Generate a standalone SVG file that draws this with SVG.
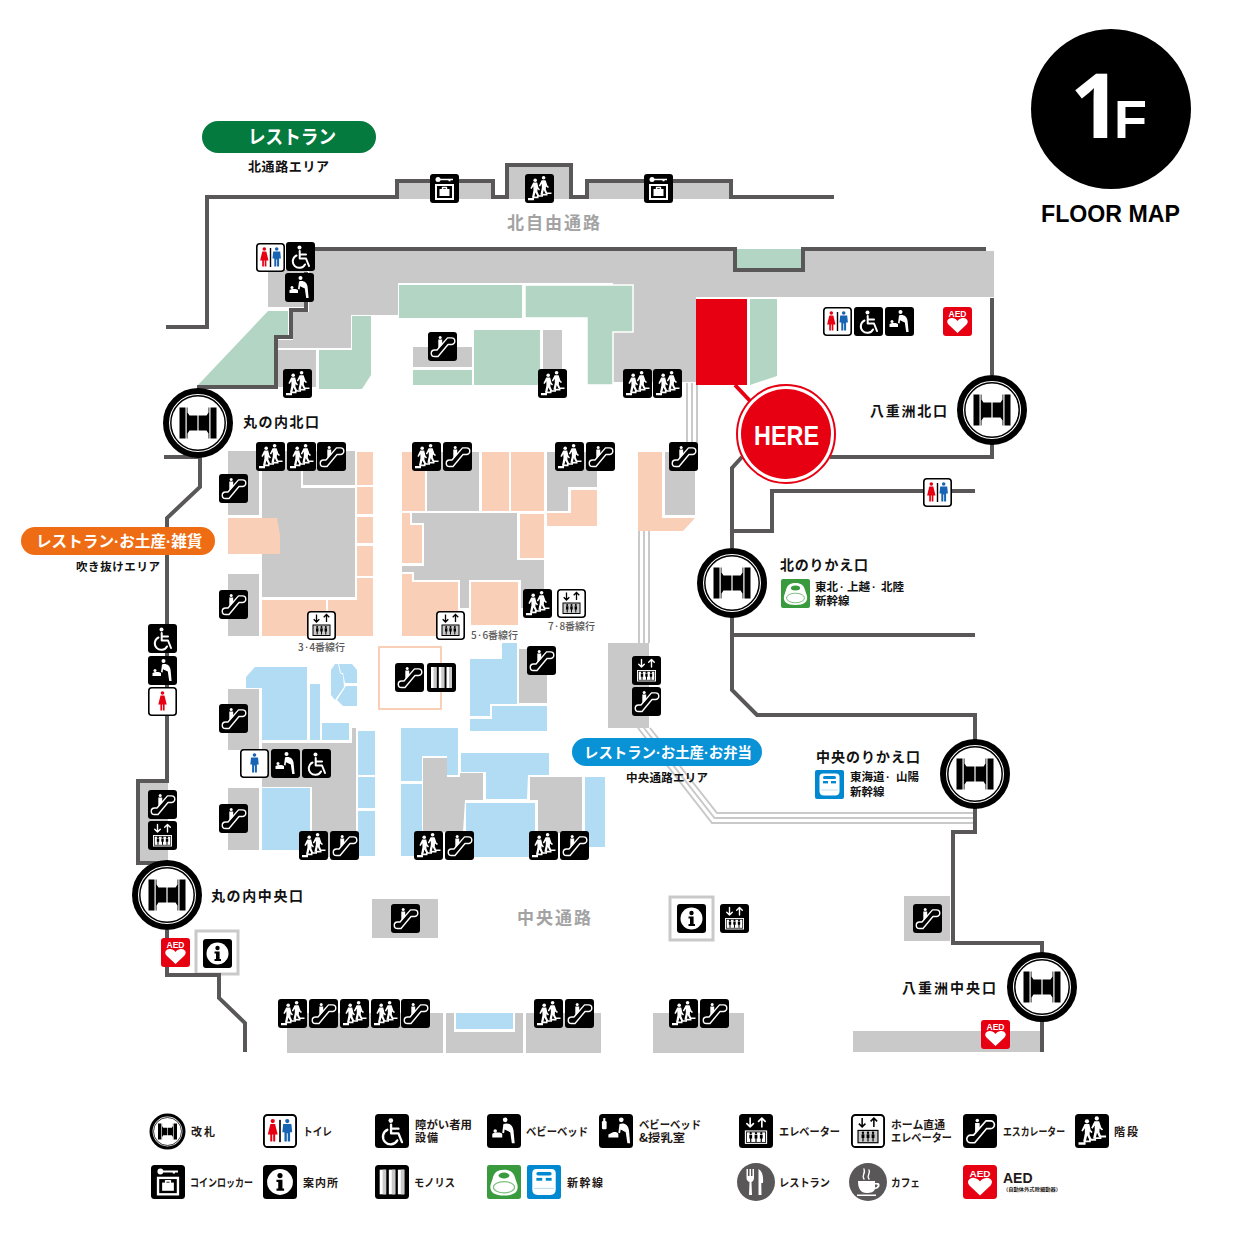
<svg xmlns="http://www.w3.org/2000/svg" width="1242" height="1241" viewBox="0 0 1242 1241">
<style>
text{font-family:"Noto Sans CJK JP","Noto Sans",sans-serif;font-weight:700;fill:#111}
.g{fill:#c9c9c9}.gr{fill:#b3d6c4}.p{fill:#f9cfb7}.b{fill:#b1dcf3}
.w{fill:none;stroke:#595757;stroke-width:4}
.t{fill:none;stroke:#c9c9c9;stroke-width:2}
.ln{font-size:14px}
.sub{font-size:11.5px}
.pill{fill:#fff}
.dot{font-family:"Liberation Sans",sans-serif}
.big{font-size:17px;fill:#a3a3a3}
.track{font-size:10px;font-weight:500;fill:#595757}
.lg{font-size:11px;fill:#231815}
.sw{fill:none;stroke:#fff;stroke-width:1.4;stroke-linecap:round;stroke-linejoin:round}
.sk{fill:none;stroke:#000;stroke-width:1.3}
.fw{fill:#fff}
</style>
<defs>
<g id="man"><circle cx="0" cy="-8.5" r="1.8"/><path d="M-3.5-6H3.5L4.2 1H2.4V9H.4V2H-.4V9H-2.4V1H-4.2Z"/></g>
<g id="woman"><circle cx="0" cy="-8.5" r="1.8"/><path d="M-2-6H2L4.2 3H2.1V9H.4V3H-.4V9H-2.1V3H-4.2Z"/></g>
<symbol id="esc" viewBox="0 0 29 29"><rect width="29" height="29" rx="3"/><path class="sw" d="M6.5 24.5H10L20 12.5H23.5a3.3 3.3 0 0 0 0-6.6H19.5L9 18H6.5a3.2 3.2 0 0 0 0 6.5Z"/><circle class="fw" cx="12.2" cy="5.6" r="1.5"/><path class="fw" d="M10.3 7.6H14.2V12.6L10.3 16.8Z"/></symbol>
<symbol id="stair" viewBox="0 0 29 29"><rect width="29" height="29" rx="3"/><path class="fw" d="M3 26.2V24H7.5V22.6H12V21.2H16.5V19.8H21V18.4H26.5V20H22.5V21.4H18V22.8H13.5V24.2H9V26.2Z"/><circle class="fw" cx="10.2" cy="6.2" r="1.8"/><circle class="fw" cx="18.6" cy="3.8" r="1.8"/><path class="fw" d="M8.2 8.6H12.2L13.4 13.6L15 15.4L14 16.4L12.6 15L12.4 17.6L14.4 22H12.2L10.4 18.4L9.2 23.5H7L8.4 16.4V12.2L6.6 15L5.4 14.2Z"/><path class="fw" d="M16.6 6.2H20.6L22.4 11.6L24 13L23 14L21 12.4L20.8 15.4L22.6 19.6H20.4L18.8 16L17.6 20.8H15.4L16.8 14V9.8L15 12.6L13.8 11.8Z"/></symbol>
<symbol id="wheel" viewBox="0 0 29 29"><rect width="29" height="29" rx="3"/><circle class="fw" cx="13.5" cy="5.6" r="2"/><path class="sw" style="stroke-width:2" d="M13.7 9V16.5H20L23 24M13.7 12.5H20M10.5 13.5A6.5 6.5 0 1 0 19 22.5"/></symbol>
<symbol id="baby" viewBox="0 0 29 29"><rect width="29" height="29" rx="3"/><circle class="fw" cx="15.5" cy="5" r="2"/><path class="fw" d="M14 8.5C18 7 22 9 22.6 14L23.6 25H21.2L19.8 15.5L15 13.3L14.6 16.5L13 16Z"/><circle class="fw" cx="7" cy="14.5" r="1.5"/><path class="fw" d="M4.5 17C6 15.5 12 15.5 13 17V20H4.5Z"/></symbol>
<symbol id="babyn" viewBox="0 0 29 29"><rect width="29" height="29" rx="3"/><circle class="fw" cx="19" cy="5" r="2"/><path class="fw" d="M17.5 8.5C21.5 7 25 9 25.6 14L26.5 25H24.2L22.8 15.5L18.5 13.3L18 16.5L16.5 16Z"/><path class="fw" d="M11 16C12 15 16 15 16.5 17V20H8V17.5Z"/><rect class="fw" x="2.5" y="6" width="4" height="7" rx="1"/><rect class="fw" x="3.6" y="3.5" width="1.8" height="2.5"/></symbol>
<symbol id="wc" viewBox="0 0 29 29"><rect x=".8" y=".8" width="27.4" height="27.4" rx="3" fill="#fff" stroke="#000" stroke-width="1.6"/><use href="#woman" x="8.3" y="14.5" fill="#e60012"/><rect x="13.8" y="5" width="1.4" height="19" fill="#000"/><use href="#man" x="20.7" y="14.5" fill="#1664b3"/></symbol>
<symbol id="wcm" viewBox="0 0 29 29"><rect x=".8" y=".8" width="27.4" height="27.4" rx="3" fill="#fff" stroke="#000" stroke-width="1.6"/><use href="#man" x="14.5" y="14.5" fill="#1664b3"/></symbol>
<symbol id="wcw" viewBox="0 0 29 29"><rect x=".8" y=".8" width="27.4" height="27.4" rx="3" fill="#fff" stroke="#000" stroke-width="1.6"/><use href="#woman" x="14.5" y="14.5" fill="#e60012"/></symbol>
<g id="ppl"><circle cx="0" cy="-3.5" r="1"/><path d="M-1.2-2.2H1.2V1H.5V4H-.5V1H-1.2Z"/></g>
<symbol id="el" viewBox="0 0 29 29"><rect width="29" height="29" rx="3"/><path class="sw" d="M9.5 3.5V11M6.7 8.2L9.5 11L12.3 8.2M19.5 11V3.5M16.7 6.3L19.5 3.5L22.3 6.3"/><rect class="fw" x="5" y="14" width="19" height="11.5"/><rect x="6.3" y="15.3" width="16.4" height="8.9" fill="none" stroke="#000" stroke-width=".7"/><use href="#ppl" x="10" y="19.8"/><use href="#ppl" x="14.5" y="19.8"/><use href="#ppl" x="19" y="19.8"/></symbol>
<symbol id="elh" viewBox="0 0 29 29"><rect x=".8" y=".8" width="27.4" height="27.4" rx="3" fill="#fff" stroke="#000" stroke-width="1.6"/><path class="sk" d="M9.5 3.5V11M6.7 8.2L9.5 11L12.3 8.2M19.5 11V3.5M16.7 6.3L19.5 3.5L22.3 6.3"/><rect x="6" y="14" width="17" height="10.5" fill="#c9c9c9" stroke="#000" stroke-width="1"/><use href="#ppl" x="10.2" y="19.5"/><use href="#ppl" x="14.5" y="19.5"/><use href="#ppl" x="18.8" y="19.5"/></symbol>
<symbol id="locker" viewBox="0 0 29 29"><rect width="29" height="29" rx="3"/><circle class="fw" cx="8" cy="5.5" r="2.5"/><path class="fw" d="M9 4.7H23V6.3H20.5V7.3H18.5V6.3H9Z"/><rect x="6" y="11" width="17" height="14" fill="none" stroke="#fff" stroke-width="2"/><rect class="fw" x="9.5" y="15" width="10" height="7"/><path class="sw" d="M12.5 15V13.5H16.5V15"/></symbol>
<symbol id="info" viewBox="0 0 29 29"><rect width="29" height="29" rx="3"/><circle class="fw" cx="14.5" cy="14.5" r="11"/><circle cx="14.5" cy="9" r="2.2"/><path d="M11.5 12.5H16.6V20H18V22H11.5V20H13V14.5H11.5Z"/></symbol>
<symbol id="aed" viewBox="0 0 29 29"><rect width="29" height="29" rx="3" fill="#e60012"/><text x="14.5" y="10" text-anchor="middle" style="font-size:8.5px;fill:#fff;font-family:'Liberation Sans',sans-serif">AED</text><path class="fw" d="M14.5 26L5.5 17.5C2.5 14 5.5 10.5 9.5 11C11.8 11.3 13.5 12.5 14.5 14C15.5 12.5 17.2 11.3 19.5 11C23.5 10.5 26.5 14 23.5 17.5Z"/></symbol>
<symbol id="mono" viewBox="0 0 29 29"><rect width="29" height="29" rx="3"/><rect class="fw" x="4" y="4" width="5.5" height="21"/><rect class="fw" x="11.8" y="4" width="5.5" height="21"/><rect class="fw" x="19.5" y="4" width="5.5" height="21"/><rect x="6.5" y="4" width="3" height="21" fill="#c9c9c9"/><rect x="14.3" y="4" width="3" height="21" fill="#c9c9c9"/><rect x="22" y="4" width="3" height="21" fill="#c9c9c9"/></symbol>
<symbol id="shg" viewBox="0 0 29 29"><rect width="29" height="29" rx="2" fill="#3a9b3e"/><path class="fw" d="M14.5 4C20 4 23 6.5 24 11L26 17C27 23 23 26 14.5 26S2 23 3 17L5 11C6 6.5 9 4 14.5 4Z"/><ellipse cx="14.5" cy="9" rx="4.6" ry="2.5" fill="#3a9b3e"/><ellipse cx="14.5" cy="19" rx="9" ry="4.8" fill="#fff" stroke="#7fbf7f"/></symbol>
<symbol id="shb" viewBox="0 0 29 29"><rect width="29" height="29" rx="2" fill="#0088d1"/><path class="fw" d="M8 3.5H21C23.5 3.5 24.5 5 24.5 7V21C24.5 24 23 25.5 20 25.5H9C6 25.5 4.5 24 4.5 21V7C4.5 5 5.5 3.5 8 3.5Z"/><rect x="8" y="6" width="13" height="3" rx="1.5" fill="#0088d1"/><rect x="8" y="11" width="5" height="2.4" fill="#0088d1"/><rect x="16" y="11" width="5" height="2.4" fill="#0088d1"/><path d="M6 20H23" stroke="#bfe0f2"/></symbol>
<symbol id="gate" viewBox="-36 -36 72 72"><circle r="32" fill="#fff" stroke="#000" stroke-width="6"/><circle r="27.2" fill="none" stroke="#000" stroke-width="1.5"/><path d="M-18.5-15.5H-12.5V15.5H-18.5ZM12.5-15.5H18.500V15.5H12.500ZM-11.300-15.500H-10.500V15.500H-11.300ZM11.300-15.500H10.500V15.500H11.300ZM-10.500-10.500L-8.500-7.500H-.6V7.500H-8.500L-10.500 10.500ZM10.500-10.500L8.500-7.500H.6V7.500H8.500L10.500 10.500Z"/></symbol>
<symbol id="rest" viewBox="0 0 38 38"><circle cx="19" cy="19" r="19" fill="#595757"/><path class="fw" d="M9.5 6H11V13H12.5V6H14V13H15.5V6H17V15C17 17.5 15.5 18.5 14.5 19L15 32H12L12.5 19C11 18.5 9.5 17.5 9.5 15ZM21.5 6C25.5 8 26.5 14 26 20H24.3L24.5 32H21.5Z"/></symbol>
<symbol id="cafe" viewBox="0 0 38 38"><circle cx="19" cy="19" r="19" fill="#595757"/><path class="fw" d="M9 18H26V20H29C31.5 20 31.5 26 26 26C25 29 22 30 17.5 30C12 30 9 26 9 18ZM26 21.5V24.5C28.5 24.5 29.5 21.5 27.5 21.5ZM8 31.5H27V33H8Z"/><path class="sw" d="M15 16C12 12 17 11 15 6M20 16C17 12 22 11 20 7"/></symbol>
</defs>

<g id="floor-grey">
<rect class="g" x="399" y="183" width="92" height="16"/><rect class="g" x="509" y="167" width="60" height="32"/><rect class="g" x="589" y="183" width="140" height="16"/>
<rect class="g" x="268" y="270" width="39" height="37"/>
<polygon class="g" points="315,251 735,251 735,272 803,272 803,251 994,251 994,297 696,297 696,382 613,382 613,283 398,283 398,315 351,315 351,348 278,348 278,340 293,340 293,312 309,312 309,251"/>
<rect class="g" x="278" y="350" width="38" height="37"/>
<rect class="g" x="413" y="347" width="59" height="20"/><rect class="g" x="543" y="330" width="19" height="55"/>
<rect class="g" x="228" y="451" width="31" height="64"/><rect class="g" x="228" y="574" width="31" height="62"/>
<polygon class="g" points="262,451 301,451 301,488 355,488 355,597 262,597"/>
<polygon class="g" points="303,451 355,451 355,485 303,485"/>
<rect class="g" x="427" y="452" width="52" height="59"/>
<polygon class="g" points="547,452 597,452 597,487 568,487 568,511 547,511"/>
<polygon class="g" points="412,513 517,513 517,560 544,560 544,590 525,608 521,608 521,580 469,580 469,608 460,608 460,580 414,580 414,572 402,572 402,566 424,566 424,523 412,523"/>
<rect class="g" x="665" y="452" width="30" height="63"/>
<rect class="g" x="608" y="643" width="41" height="85"/>
<rect class="g" x="228" y="689" width="31" height="61"/>
<polygon class="g" points="262,743 352,743 352,728 356,728 356,857 312,857 312,787 262,787"/>
<rect class="g" x="228" y="788" width="31" height="62"/>
<rect class="g" x="519" y="649" width="28" height="54"/>
<polygon class="g" points="423,758 447,758 447,777 460,777 460,773 483,773 483,800 465,800 463,832 423,832"/>
<polygon class="g" points="530,777 582,777 582,833 538,833 538,800 530,800"/>
<rect class="g" x="139" y="783" width="29" height="79"/>
<rect class="g" x="372" y="899" width="66" height="39"/><rect class="g" x="904" y="896" width="46" height="45"/>
<rect class="g" x="287" y="1013" width="156" height="40"/><rect class="g" x="446" y="1013" width="77" height="40"/><rect class="g" x="526" y="1013" width="75" height="40"/><rect class="g" x="653" y="1013" width="91" height="40"/><rect class="g" x="853" y="1031" width="187" height="21"/>
</g>
<g id="floor-green">
<rect class="gr" x="399" y="285" width="123" height="33"/>
<polygon class="gr" stroke="#fff" stroke-width="1.5" points="525,285 633,285 633,332 613,332 613,385 587,385 587,318 525,318"/>
<polygon class="gr" points="198,385 268,311 288,311 288,335 274,335 274,385"/>
<polygon class="gr" points="352,316 371,316 371,375 362,389 319,389 319,350 352,350"/>
<rect class="gr" x="413" y="370" width="59" height="15"/><rect class="gr" x="474" y="330" width="66" height="55"/>
<polygon class="gr" points="750,299 777,299 777,376 750,385"/>
<rect class="gr" x="737" y="249" width="64" height="20"/>
</g>
<g id="floor-peach">
<polygon class="p" points="228,518 277,518 280,535 280,554 228,554"/>
<rect class="p" x="357" y="452" width="16" height="33"/><rect class="p" x="357" y="487" width="16" height="27"/><rect class="p" x="357" y="517" width="16" height="26"/><rect class="p" x="357" y="546" width="16" height="30"/>
<polygon class="p" points="357,578 373,578 373,636 328,636 328,600 357,600"/>
<rect class="p" x="262" y="600" width="64" height="36"/>
<rect class="p" x="402" y="452" width="23" height="59"/><rect class="p" x="482" y="452" width="27" height="59"/><rect class="p" x="511" y="452" width="33" height="59"/>
<polygon class="p" points="571,490 597,490 597,526 547,526 547,513 571,513"/>
<polygon class="p" points="402,513 410,513 410,525 422,525 422,563 402,563"/>
<rect class="p" x="520" y="514" width="24" height="44"/>
<polygon class="p" points="402,574 412,574 412,582 458,582 458,636 402,636"/>
<rect class="p" x="471" y="582" width="47" height="43"/>
<polygon class="p" points="638,452 662,452 662,518 695,518 683,531 638,531"/>
<rect x="379" y="647" width="62" height="62" fill="none" stroke="#f9cfb7" stroke-width="2"/>
</g>
<g id="floor-blue">
<polygon class="b" points="246,677 255,667 307,667 307,740 262,740 262,688 246,688"/>
<rect class="b" x="310" y="684" width="10" height="56"/><rect class="b" x="322" y="723" width="27" height="17"/>
<rect class="b" x="262" y="788" width="48" height="62"/>
<rect class="b" x="358" y="731" width="17" height="44"/><rect class="b" x="358" y="777" width="17" height="31"/><rect class="b" x="358" y="811" width="17" height="45"/>
<polygon class="b" points="339,664 352,664 357,670 357,683 345,683 343,673 341,673"/>
<polygon class="b" points="331,670 335,664 338,664 340,673 343,675 344,687 335,700 331,695"/>
<polygon class="b" points="346,686 357,686 357,706 343,706 337,700"/>
<polygon class="b" points="470,659 502,659 502,643 517,643 517,704 490,704 490,716 470,716"/>
<polygon class="b" points="470,719 492,719 492,706 547,706 547,731 470,731"/>
<polygon class="b" points="401,728 458,728 458,775 447,775 447,756 422,756 422,781 401,781"/>
<rect class="b" x="401" y="784" width="21" height="72"/>
<polygon class="b" points="461,753 549,753 549,775 528,775 527,799 486,799 486,772 461,772"/>
<rect class="b" x="466" y="803" width="69" height="54"/>
<rect class="b" x="585" y="777" width="20" height="70"/>
<rect x="454" y="1013" width="61" height="19" fill="#fff"/>
<rect class="b" x="456" y="1013" width="57" height="16"/>
</g>
<g id="connectors">
<path class="t" d="M687 383V452M692 383V452M697 383V452M639 531V643M644 531V643M649 531V643"/>
<path class="t" d="M638 728L712 823H973M644 728L714.5 818H973M650 728L717 813H973"/>
<rect x="670" y="897" width="43" height="43" fill="none" stroke="#c9c9c9" stroke-width="3"/>
<rect x="196" y="931" width="42" height="43" fill="none" stroke="#c9c9c9" stroke-width="3"/>
<path class="w" d="M166 327H207V197H397V181H493V197H507V165H571V197H587V181H731V197H834"/>
<path class="w" d="M306 249H735V270H803V249H986"/>
<path class="w" d="M306 272V310H291V337H276V387H197"/>
<path class="w" d="M992 298V375M992 440V457H830M742 457L732 468V548M732 531H772V491H975"/>
<path class="w" d="M732 615V690L757 715H975V745M732 635H975M975 805V832H953V943H1042V960M1042 1020V1052"/>
<path class="w" d="M164 457H200V487L167 518V781H138V863H160"/>
<path class="w" d="M167 930V975H219V998L245 1023V1052"/>
</g>

<g id="icons">
<use href="#wc" x="256" y="243" width="29" height="29"/><use href="#wheel" x="286" y="242" width="29" height="29"/><use href="#baby" x="285" y="273" width="29" height="29"/>
<use href="#locker" x="430" y="174" width="29" height="29"/><use href="#stair" x="525" y="174" width="29" height="29"/><use href="#locker" x="644" y="174" width="29" height="29"/>
<use href="#stair" x="283" y="369" width="29" height="29"/><use href="#esc" x="428" y="332" width="29" height="29"/><use href="#stair" x="538" y="369" width="29" height="29"/>
<use href="#stair" x="623" y="369" width="29" height="29"/><use href="#stair" x="653" y="369" width="29" height="29"/>
<use href="#wc" x="823" y="307" width="29" height="29"/><use href="#wheel" x="854" y="307" width="29" height="29"/><use href="#baby" x="885" y="307" width="29" height="29"/><use href="#aed" x="943" y="307" width="29" height="29"/>
<use href="#wc" x="923" y="478" width="29" height="29"/>
<use href="#stair" x="256" y="442" width="29" height="29"/><use href="#stair" x="287" y="442" width="29" height="29"/><use href="#esc" x="317" y="442" width="29" height="29"/>
<use href="#stair" x="412" y="442" width="29" height="29"/><use href="#esc" x="443" y="442" width="29" height="29"/>
<use href="#stair" x="555" y="442" width="29" height="29"/><use href="#esc" x="586" y="442" width="29" height="29"/><use href="#esc" x="669" y="442" width="29" height="29"/>
<use href="#esc" x="219" y="474" width="29" height="29"/><use href="#esc" x="219" y="590" width="29" height="29"/>
<use href="#elh" x="307" y="611" width="29" height="29"/><use href="#elh" x="436" y="611" width="29" height="29"/><use href="#stair" x="523" y="589" width="29" height="29"/><use href="#elh" x="557" y="589" width="29" height="29"/>
<use href="#esc" x="395" y="663" width="29" height="29"/><use href="#mono" x="427" y="663" width="29" height="29"/><use href="#esc" x="527" y="646" width="29" height="29"/>
<use href="#el" x="632" y="656" width="29" height="29"/><use href="#esc" x="632" y="687" width="29" height="29"/>
<use href="#esc" x="219" y="704" width="29" height="29"/><use href="#wcm" x="240" y="749" width="29" height="29"/><use href="#baby" x="271" y="749" width="29" height="29"/><use href="#wheel" x="302" y="749" width="29" height="29"/><use href="#esc" x="219" y="804" width="29" height="29"/>
<use href="#stair" x="299" y="831" width="29" height="29"/><use href="#esc" x="330" y="831" width="29" height="29"/><use href="#stair" x="414" y="831" width="29" height="29"/><use href="#esc" x="445" y="831" width="29" height="29"/><use href="#stair" x="529" y="831" width="29" height="29"/><use href="#esc" x="560" y="831" width="29" height="29"/>
<use href="#wheel" x="148" y="624" width="29" height="29"/><use href="#baby" x="148" y="656" width="29" height="29"/><use href="#wcw" x="148" y="687" width="29" height="29"/><use href="#esc" x="148" y="790" width="29" height="29"/><use href="#el" x="148" y="821" width="29" height="29"/>
<use href="#aed" x="161" y="938" width="29" height="29"/><use href="#info" x="203" y="939" width="29" height="29"/>
<use href="#esc" x="391" y="904" width="29" height="29"/><use href="#info" x="677" y="904" width="29" height="29"/><use href="#el" x="720" y="904" width="29" height="29"/><use href="#esc" x="913" y="904" width="29" height="29"/>
<use href="#stair" x="278" y="999" width="29" height="29"/><use href="#esc" x="309" y="999" width="29" height="29"/><use href="#stair" x="340" y="999" width="29" height="29"/><use href="#stair" x="371" y="999" width="29" height="29"/><use href="#esc" x="401" y="999" width="29" height="29"/>
<use href="#stair" x="534" y="999" width="29" height="29"/><use href="#esc" x="565" y="999" width="29" height="29"/><use href="#stair" x="669" y="999" width="29" height="29"/><use href="#esc" x="700" y="999" width="29" height="29"/>
<use href="#aed" x="981" y="1020" width="29" height="29"/>
<use href="#shg" x="781" y="579" width="29" height="29"/><use href="#shb" x="815" y="770" width="29" height="29"/>
</g>

<g id="gates">
<use id="gate-marunouchi-north" href="#gate" x="162" y="387" width="72" height="72"/>
<use id="gate-yaesu-north" href="#gate" x="956" y="374" width="72" height="72"/>
<use id="gate-north-transfer" href="#gate" x="696" y="547" width="72" height="72"/>
<use id="gate-central-transfer" href="#gate" x="939" y="738" width="72" height="72"/>
<use id="gate-marunouchi-central" href="#gate" x="131" y="859" width="72" height="72"/>
<use id="gate-yaesu-central" href="#gate" x="1006" y="951" width="72" height="72"/>
</g>

<g id="here">
<rect x="696" y="299" width="51" height="86" fill="#e60012"/>
<path d="M735 385L752 403" stroke="#e60012" stroke-width="4"/>
<circle cx="786" cy="434" r="49" fill="#fff" stroke="#e60012" stroke-width="2"/>
<circle cx="786" cy="434" r="45" fill="#e60012"/>
<text x="754" y="445" textLength="65" lengthAdjust="spacingAndGlyphs" style="font-family:'Liberation Sans',sans-serif;font-size:28px;fill:#fff">HERE</text>
</g>

<g id="badge-1f">
<circle cx="1111" cy="109" r="80" fill="#000"/>
<text x="1070" y="138" style="font-family:'Open Sans',sans-serif;font-weight:700;font-size:90px;fill:#fff">1</text>
<text x="1114" y="138" style="font-family:'Liberation Sans',sans-serif;font-size:54px;fill:#fff">F</text>
<text x="1041" y="222" textLength="139" lengthAdjust="spacingAndGlyphs" style="font-family:'Liberation Sans',sans-serif;font-size:23px;fill:#000">FLOOR MAP</text>
</g>

<g id="labels">
<rect x="202" y="121" width="174" height="32" rx="16" fill="#057a3f"/>
<text class="pill" x="248" y="144" textLength="88" lengthAdjust="spacingAndGlyphs" style="font-size:19px">レストラン</text>
<text class="sub" x="248" y="171" textLength="81" style="font-size:13px">北通路エリア</text>
<rect x="21" y="527" width="194" height="28" rx="14" fill="#ee6c14"/>
<text class="pill" x="36" y="547" style="font-size:15.6px">レストラン<tspan class="dot">·</tspan>お土産<tspan class="dot">·</tspan>雑貨</text>
<text class="sub" x="76" y="571" textLength="84">吹き抜けエリア</text>
<rect x="572" y="738" width="190" height="28" rx="14" fill="#0a92d6"/>
<text class="pill" x="584" y="758" style="font-size:14.4px">レストラン<tspan class="dot">·</tspan>お土産<tspan class="dot">·</tspan>お弁当</text>
<text class="sub" x="626" y="782" textLength="82">中央通路エリア</text>
<text class="big" x="507" y="229" textLength="93">北自由通路</text>
<text class="big" x="517" y="924" textLength="74">中央通路</text>
<text class="ln" x="243" y="427" textLength="76">丸の内北口</text>
<text class="ln" x="870" y="416" textLength="77">八重洲北口</text>
<text class="ln" x="780" y="570" textLength="88">北のりかえ口</text>
<text class="sub" y="591"><tspan x="815">東北</tspan><tspan class="dot" x="840">·</tspan><tspan x="847">上越</tspan><tspan class="dot" x="872">·</tspan><tspan x="881">北陸</tspan></text>
<text class="sub" x="815" y="605">新幹線</text>
<text class="ln" x="816" y="762" textLength="104">中央のりかえ口</text>
<text class="sub" y="781"><tspan x="850">東海道</tspan><tspan class="dot" x="886">·</tspan><tspan x="896">山陽</tspan></text>
<text class="sub" x="850" y="796">新幹線</text>
<text class="ln" x="211" y="901" textLength="92">丸の内中央口</text>
<text class="ln" x="902" y="993" textLength="94">八重洲中央口</text>
<text class="track" x="298" y="651" textLength="47">3·4番線行</text>
<text class="track" x="471" y="639" textLength="47">5·6番線行</text>
<text class="track" x="548" y="630" textLength="47">7·8番線行</text>
</g>

<g id="legend">
<use href="#gate" x="149" y="1113" width="37" height="37"/><text class="lg" x="191" y="1136" textLength="24">改札</text>
<use href="#wc" x="263" y="1114" width="34" height="34"/><text class="lg" x="303" y="1136" textLength="29" lengthAdjust="spacingAndGlyphs">トイレ</text>
<use href="#wheel" x="375" y="1114" width="34" height="34"/><text class="lg" x="415" y="1129" textLength="57" lengthAdjust="spacingAndGlyphs">障がい者用</text><text class="lg" x="415" y="1142" textLength="23">設備</text>
<use href="#baby" x="487" y="1114" width="34" height="34"/><text class="lg" x="526" y="1136" textLength="62" lengthAdjust="spacingAndGlyphs">ベビーベッド</text>
<use href="#babyn" x="599" y="1114" width="34" height="34"/><text class="lg" x="639" y="1129" textLength="62" lengthAdjust="spacingAndGlyphs">ベビーベッド</text><text class="lg" x="639" y="1142" textLength="46" lengthAdjust="spacingAndGlyphs">&amp;授乳室</text>
<use href="#el" x="739" y="1114" width="34" height="34"/><text class="lg" x="779" y="1136" textLength="61" lengthAdjust="spacingAndGlyphs">エレベーター</text>
<use href="#elh" x="851" y="1114" width="34" height="34"/><text class="lg" x="891" y="1129" textLength="54" lengthAdjust="spacingAndGlyphs">ホーム直通</text><text class="lg" x="891" y="1142" textLength="61" lengthAdjust="spacingAndGlyphs">エレベーター</text>
<use href="#esc" x="963" y="1114" width="34" height="34"/><text class="lg" x="1003" y="1136" textLength="62" lengthAdjust="spacingAndGlyphs">エスカレーター</text>
<use href="#stair" x="1075" y="1114" width="34" height="34"/><text class="lg" x="1114" y="1136" textLength="24">階段</text>
<use href="#locker" x="151" y="1165" width="34" height="34"/><text class="lg" x="190" y="1187" textLength="63" lengthAdjust="spacingAndGlyphs">コインロッカー</text>
<use href="#info" x="263" y="1165" width="34" height="34"/><text class="lg" x="303" y="1187" textLength="35">案内所</text>
<use href="#mono" x="375" y="1165" width="34" height="34"/><text class="lg" x="414" y="1187" textLength="41" lengthAdjust="spacingAndGlyphs">モノリス</text>
<use href="#shg" x="487" y="1165" width="34" height="34"/><use href="#shb" x="527" y="1165" width="34" height="34"/><text class="lg" x="567" y="1187" textLength="36">新幹線</text>
<use href="#rest" x="737" y="1163" width="38" height="38"/><text class="lg" x="779" y="1187" textLength="51" lengthAdjust="spacingAndGlyphs">レストラン</text>
<use href="#cafe" x="849" y="1163" width="38" height="38"/><text class="lg" x="891" y="1187" textLength="29" lengthAdjust="spacingAndGlyphs">カフェ</text>
<use href="#aed" x="963" y="1165" width="34" height="34"/><text x="1003" y="1183" style="font-family:'Liberation Sans',sans-serif;font-size:14px;fill:#231815">AED</text><text x="1003" y="1191" textLength="58" lengthAdjust="spacingAndGlyphs" style="font-size:5px;fill:#231815">（自動体外式除細動器）</text>
</g>
</svg>
